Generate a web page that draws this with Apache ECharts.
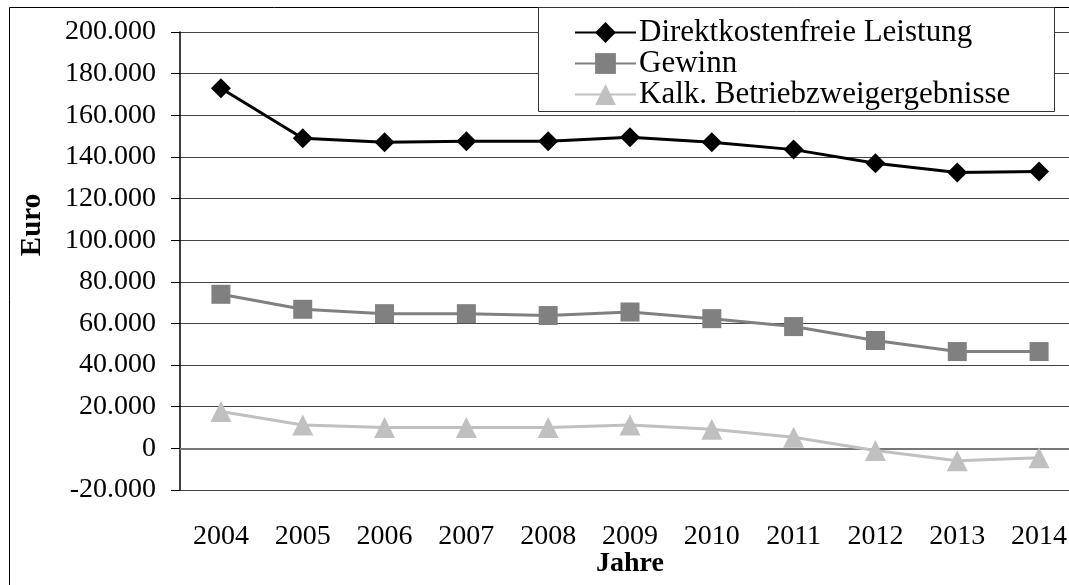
<!DOCTYPE html>
<html>
<head>
<meta charset="utf-8">
<script src="https://cdn.jsdelivr.net/npm/echarts@6/dist/echarts.min.js"></script>
<style>
html,body{margin:0;padding:0;background:#fff;}
#chart{width:1069px;height:585px;}
</style>
</head>
<body>
<div id="chart"></div>
<script>
var categories = ['2004','2005','2006','2007','2008','2009','2010','2011','2012','2013','2014'];
var seriesNames = ['Direktkostenfreie Leistung','Gewinn','Kalk. Betriebzweigergebnisse'];
var direktkostenfreieLeistung = [173000,149000,147000,147500,147500,149500,147000,143500,137000,132500,133000];
var gewinn = [74000,66800,64700,64700,63800,65500,62300,58500,51800,46500,46500];
var kalkBetriebszweig = [17700,11200,10000,10000,10000,11200,9200,5300,-1000,-6000,-4500];
var yMin = -20000, yMax = 200000, yStep = 20000;

function fmt(v){
  var s = String(Math.abs(v)).replace(/\B(?=(\d{3})+(?!\d))/g, '.');
  return (v < 0 ? '-' : '') + s;
}
var font = 'Liberation Serif, Times New Roman, serif';
var chart = echarts.init(document.getElementById('chart'));
chart.setOption({
  animation: false,
  backgroundColor: '#fff',
  grid: {left: 180, top: 32, bottom: 95, right: -11, containLabel: false, outerBoundsMode: 'none'},
  legend: {
    orient: 'vertical', left: 574, top: 17, padding: 0, itemGap: 0,
    itemWidth: 61, itemHeight: 26, z: 10,
    textStyle: {fontFamily: font, fontSize: 31, color: '#000', lineHeight: 30, padding: [0,0,0,-2]},
    data: seriesNames
  },
  graphic: [
    {type: 'rect', z: 9, shape: {x: 538.5, y: 7.5, width: 516, height: 104}, style: {fill: '#fff', stroke: '#333', lineWidth: 1}},
    {type: 'rect', z: 0, silent: true, shape: {x: 9.5, y: 7.5, width: 1100, height: 620}, style: {fill: 'none', stroke: '#000', lineWidth: 1}},
    {type: 'text', z: 10, x: 33, y: 225, rotation: Math.PI/2, style: {text: 'Euro', fontFamily: font, fontSize: 29, fontWeight: 'bold', fill: '#000', align: 'center', verticalAlign: 'middle'}}
  ],
  xAxis: {
    type: 'category', data: categories, boundaryGap: true,
    axisLine: {onZero: true, lineStyle: {color: '#777', width: 2}},
    axisTick: {length: 9, lineStyle: {color: '#333', width: 1}},
    axisLabel: {margin: 33, fontFamily: font, fontSize: 28, color: '#000'},
    name: 'Jahre', nameLocation: 'middle', nameGap: 60, nameMoveOverlap: false,
    nameTextStyle: {fontFamily: font, fontSize: 28, fontWeight: 'bold', color: '#000'},
    splitLine: {show: false}
  },
  yAxis: {
    type: 'value', min: yMin, max: yMax, interval: yStep,
    axisLine: {show: true, onZero: false, lineStyle: {color: '#000', width: 1.5}},
    axisTick: {show: true, length: 9, lineStyle: {color: '#000'}},
    axisLabel: {margin: 24, fontFamily: font, fontSize: 28, color: '#000', formatter: fmt},
    splitLine: {show: true, lineStyle: {color: '#444', width: 1}}
  },
  series: [
    {name: seriesNames[0], type: 'line', data: direktkostenfreieLeistung, symbol: 'diamond', symbolSize: 20,
     lineStyle: {color: '#000', width: 3}, itemStyle: {color: '#000'}, z: 5},
    {name: seriesNames[1], type: 'line', data: gewinn, symbol: 'rect', symbolSize: 19,
     lineStyle: {color: '#808080', width: 3}, itemStyle: {color: '#808080'}, z: 4},
    {name: seriesNames[2], type: 'line', data: kalkBetriebszweig, symbol: 'triangle', symbolSize: 21,
     lineStyle: {color: '#c0c0c0', width: 3}, itemStyle: {color: '#c0c0c0'}, z: 3}
  ]
});
</script>
</body>
</html>
